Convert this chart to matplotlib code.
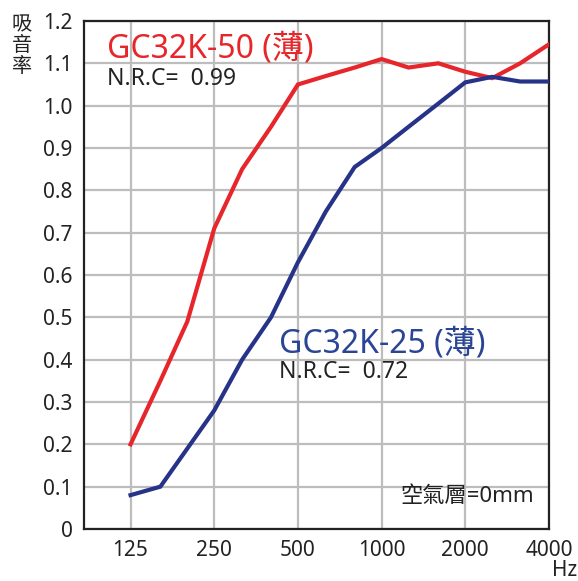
import matplotlib
matplotlib.use('Agg')
import matplotlib.pyplot as plt

FONT = ['Noto Sans', 'Noto Sans CJK TC', 'DejaVu Sans']
plt.rcParams['font.family'] = FONT

# 1/3 octave band centre frequencies (Hz)
freqs = [125, 160, 200, 250, 315, 400, 500, 630, 800, 1000, 1250, 1600, 2000, 2500, 3150, 4000]
# absorption coefficients
gc50 = [0.20, 0.35, 0.49, 0.71, 0.85, 0.95, 1.05, 1.07, 1.09, 1.11, 1.09, 1.10, 1.08, 1.065, 1.10, 1.145]
gc25 = [0.08, 0.10, 0.19, 0.28, 0.40, 0.50, 0.63, 0.75, 0.855, 0.90, 0.95, 1.005, 1.055, 1.068, 1.057, 1.057]

xticks = [125, 250, 500, 1000, 2000, 4000]
yticks = [0, 0.1, 0.2, 0.3, 0.4, 0.5, 0.6, 0.7, 0.8, 0.9, 1.0, 1.1, 1.2]
ylabels = ['0', '0.1', '0.2', '0.3', '0.4', '0.5', '0.6', '0.7', '0.8', '0.9', '1.0', '1.1', '1.2']

red = '#e6262b'
blue = '#263388'

fig = plt.figure(figsize=(5.78, 5.81), dpi=100)
ax = fig.add_axes([0.1453, 0.0895, 0.8045, 0.8744])

ax.set_xscale('log')
ax.set_xlim(85, 4000)
ax.set_ylim(0, 1.2)
ax.set_xticks(xticks)
ax.set_xticklabels([str(t) for t in xticks])
ax.minorticks_off()
ax.set_yticks(yticks)
ax.set_yticklabels(ylabels)
ax.tick_params(length=0, labelsize=15, colors='#222222', pad=8)
ax.grid(True, color='#bdbdbd', linewidth=1.6)
ax.set_axisbelow(True)
for s in ax.spines.values():
    s.set_color('#222222')
    s.set_linewidth(1.6)

ax.plot(freqs, gc50, color=red, linewidth=3, solid_joinstyle='miter', zorder=3)
ax.plot(freqs, gc25, color=blue, linewidth=3, solid_joinstyle='miter', zorder=3)

ax.text(0.05, 0.945, 'GC32K-50 (薄)', transform=ax.transAxes, color=red,
        fontsize=23, va='center', ha='left')
ax.text(0.05, 0.885, 'N.R.C=  0.99', transform=ax.transAxes, color='#222222',
        fontsize=16.5, va='center', ha='left')
ax.text(0.42, 0.365, 'GC32K-25 (薄)', transform=ax.transAxes, color='#2b4596',
        fontsize=23, va='center', ha='left')
ax.text(0.42, 0.31, 'N.R.C=  0.72', transform=ax.transAxes, color='#222222',
        fontsize=16.5, va='center', ha='left')
ax.text(0.968, 0.063, '空氣層=0mm', transform=ax.transAxes, color='#222222',
        fontsize=16, va='center', ha='right')

fig.text(0.038, 0.92, '吸\n音\n率', fontsize=14.5, ha='center', va='center',
         linespacing=1.05, color='#222222')
fig.text(0.976, 0.0, 'Hz', fontsize=15, ha='center', va='bottom', color='#222222')

fig.savefig('out.png', dpi=100)
